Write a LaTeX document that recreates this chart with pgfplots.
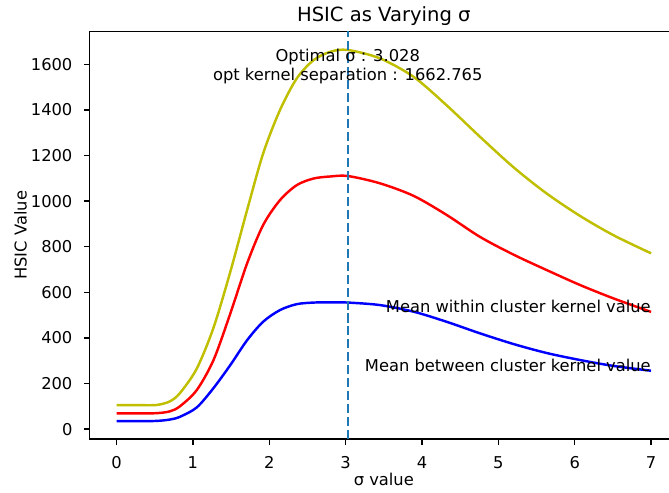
\documentclass[border=0pt]{standalone}
\usepackage{fontspec}
\setmainfont{DejaVu Sans}
\usepackage{pgfplots}
\pgfplotsset{compat=1.18}
\definecolor{mplyellow}{rgb}{0.75,0.75,0}
\definecolor{mplC0}{HTML}{1F77B4}
\begin{document}
\begin{tikzpicture}
\begin{axis}[
  at={(0pt,0pt)}, anchor=south west,
  scale only axis,
  width=360.7pt, height=250.1pt,
  xmin=-0.35, xmax=7.35,
  ymin=-44, ymax=1744,
  xtick={0,1,2,3,4,5,6,7},
  ytick={0,200,400,600,800,1000,1200,1400,1600},
  axis line style={line width=0.8pt, black},
  tick style={line width=0.8pt, black},
  tick align=outside,
  major tick length=3.5pt,
  xtick pos=bottom, ytick pos=left,
  /pgf/number format/assume math mode=true,
  /pgf/number format/1000 sep={},
  ticklabel style={font=\fontsize{10pt}{12pt}\selectfont, inner sep=0pt},
  xticklabel style={anchor=north, yshift=-7pt},
  yticklabel style={anchor=east, xshift=-7pt},
  every axis title shift=6pt,
  title={HSIC as Varying σ},
  title style={font=\fontsize{12pt}{14pt}\selectfont, at={(axis description cs:0.5,1)}, anchor=base, inner sep=0pt},
  xlabel={σ value},
  xlabel style={font=\fontsize{10pt}{12pt}\selectfont, at={(axis description cs:0.5,0)}, anchor=base, yshift=-28.6pt, inner sep=0pt},
  clip=false,
]
\addplot[mplyellow, line width=1.5pt, smooth] coordinates {
(0,105) (0.3,105) (0.53,106) (0.7,122) (0.83,158) (1.05,265) (1.27,445) (1.49,690) (1.71,961) (1.92,1209) (2.14,1399) (2.36,1538) (2.58,1618) (2.80,1655) (3.028,1662.8) (3.45,1626) (3.89,1545) (4.32,1421) (4.76,1282) (5.20,1148) (5.63,1034) (6.07,935) (6.51,850) (7,771)
};
\addplot[red, line width=1.5pt, smooth] coordinates {
(0,69) (0.3,69) (0.53,70) (0.7,78) (0.83,100) (1.05,171) (1.27,303) (1.49,507) (1.71,727) (1.92,895) (2.14,1004) (2.36,1070) (2.58,1099) (2.80,1108) (3.03,1110) (3.45,1078) (3.89,1023) (4.32,940) (4.76,843) (5.20,765) (5.63,698) (6.07,632) (6.51,573) (7,514)
};
\addplot[blue, line width=1.5pt, smooth] coordinates {
(0,35) (0.3,35) (0.53,36) (0.7,42) (0.83,54) (1.05,95) (1.27,180) (1.49,281) (1.71,390) (1.92,471) (2.14,522) (2.36,548) (2.58,555) (2.80,556) (3.03,555) (3.45,544) (3.89,515) (4.32,471) (4.76,420) (5.20,373) (5.63,334) (6.07,303) (6.51,277) (7,256)
};
\addplot[mplC0, line width=1.5pt, dash pattern=on 5.55pt off 2.4pt] coordinates {(3.028,-44) (3.028,1744)};
\node[anchor=base, inner sep=0pt, font=\fontsize{10pt}{12pt}\selectfont] at (axis cs:3.028,1611) {Optimal σ : 3.028};
\node[anchor=base, inner sep=0pt, font=\fontsize{10pt}{12pt}\selectfont] at (axis cs:3.028,1531) {opt kernel separation : 1662.765};
\node[anchor=base east, inner sep=0pt, font=\fontsize{10pt}{12pt}\selectfont] at (axis cs:7,510) {Mean within cluster kernel value};
\node[anchor=base east, inner sep=0pt, font=\fontsize{10pt}{12pt}\selectfont] at (axis cs:7,254) {Mean between cluster kernel value};
\end{axis}
\node[rotate=90, anchor=base, inner sep=0pt, font=\fontsize{10pt}{12pt}\selectfont] at (-38.7pt,125.05pt) {HSIC Value};
\pgfresetboundingbox
\useasboundingbox (-55.1pt,-32.5pt) rectangle (355.3pt,269.4pt);
\end{tikzpicture}
\end{document}
